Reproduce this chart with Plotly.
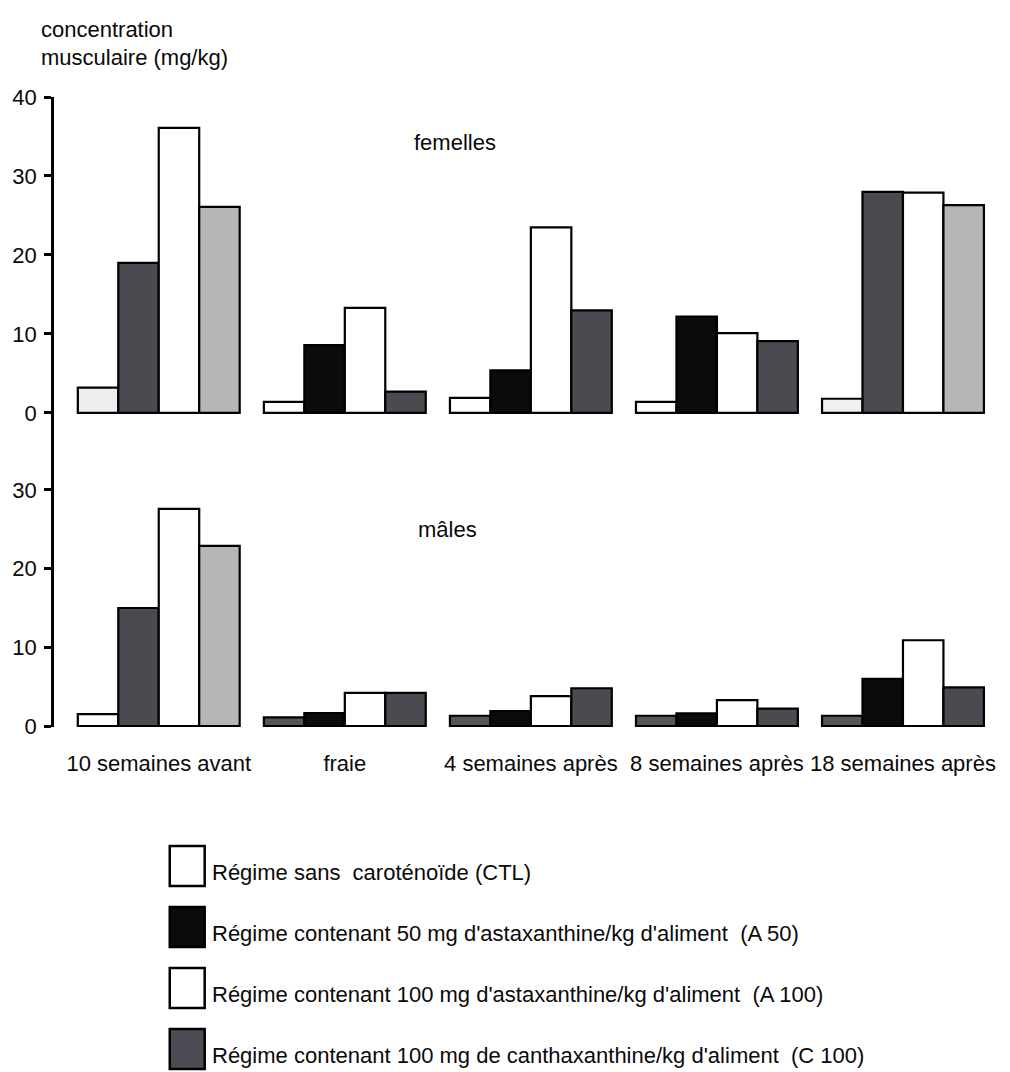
import plotly.graph_objects as go

# ---------------- data ----------------
periods = ["10 semaines avant", "fraie", "4 semaines après", "8 semaines après", "18 semaines après"]
series_codes = ["CTL", "A 50", "A 100", "C 100"]
series_labels = [
    "Régime sans  caroténoïde (CTL)",
    "Régime contenant 50 mg d'astaxanthine/kg d'aliment  (A 50)",
    "Régime contenant 100 mg d'astaxanthine/kg d'aliment  (A 100)",
    "Régime contenant 100 mg de canthaxanthine/kg d'aliment  (C 100)",
]

# femelles (mg/kg)
fem_ctl = [3.2, 1.4, 1.9, 1.4, 1.8]
fem_a50 = [19.0, 8.6, 5.4, 12.2, 28.0]
fem_a100 = [36.1, 13.3, 23.5, 10.1, 27.9]
fem_c100 = [26.1, 2.7, 13.0, 9.1, 26.3]

# mâles (mg/kg)
mal_ctl = [1.5, 1.1, 1.3, 1.3, 1.3]
mal_a50 = [15.0, 1.65, 1.9, 1.6, 6.0]
mal_a100 = [27.6, 4.2, 3.8, 3.3, 10.9]
mal_c100 = [22.9, 4.2, 4.8, 2.2, 4.9]

top_ticks = [0, 10, 20, 30, 40]
bottom_ticks = [0, 10, 20, 30]

# ---------------- styles (scan shades per bar) ----------------
BLACK = "#0b0b0b"
DARK = "#4a4a50"
LIGHT = "#b6b6b6"
WHITE = "#ffffff"
fem_colors = [
    ["#ededed", WHITE, WHITE, WHITE, "#f0f0f0"],
    [DARK, BLACK, BLACK, BLACK, DARK],
    [WHITE] * 5,
    [LIGHT, DARK, DARK, DARK, LIGHT],
]
mal_colors = [
    [WHITE, "#55555a", "#55555a", "#55555a", "#55555a"],
    [DARK, BLACK, BLACK, BLACK, BLACK],
    [WHITE] * 5,
    [LIGHT, DARK, DARK, DARK, DARK],
]
legend_colors = [WHITE, BLACK, WHITE, "#4c4c54"]

FONT = "Liberation Sans, Arial, Helvetica, sans-serif"
FS = 22
TXT = "#0a0a0a"

fig = go.Figure()
xcat = list(range(len(periods)))

for vals, cols, name in zip([fem_ctl, fem_a50, fem_a100, fem_c100], fem_colors, series_codes):
    fig.add_trace(go.Bar(x=xcat, y=vals, name=name, xaxis="x", yaxis="y",
                         marker=dict(color=cols, line=dict(color="black", width=2.2)),
                         showlegend=False))
for vals, cols, name in zip([mal_ctl, mal_a50, mal_a100, mal_c100], mal_colors, series_codes):
    fig.add_trace(go.Bar(x=xcat, y=vals, name=name, xaxis="x2", yaxis="y2",
                         marker=dict(color=cols, line=dict(color="black", width=2.2)),
                         showlegend=False))

# pixel geometry helpers (plot area 52..996 x 97..727)
L, R, T, B = 52, 14, 97, 345
W, H = 1010, 1072
PW, PH = W - L - R, H - T - B
def px(x):
    return (x - L) / PW
def py(y):
    return (T + PH - y) / PH

split = py(470)
xr = [-0.563, 4.5]
top_range = [-7.22, 40]
bot_range = [-0.127, 32.54]

axis_common = dict(showgrid=False, zeroline=False)
fig.update_layout(
    width=W, height=H,
    margin=dict(l=L, r=R, t=T, b=B),
    paper_bgcolor="white", plot_bgcolor="white",
    font=dict(family=FONT, size=FS, color=TXT),
    barmode="group", bargap=0.13, bargroupgap=0,
    xaxis=dict(domain=[0, 1], range=xr, anchor="y", showticklabels=False, ticks="",
               showline=False, **axis_common),
    xaxis2=dict(domain=[0, 1], range=xr, anchor="y2", tickmode="array", tickvals=xcat,
                ticktext=periods, ticks="outside", ticklen=17, tickcolor="rgba(0,0,0,0)",
                showline=False, tickfont=dict(size=FS, color=TXT), **axis_common),
    yaxis=dict(domain=[split, 1], range=top_range, anchor="x", tickmode="array",
               tickvals=top_ticks, ticks="outside", ticklen=7, tickwidth=2.5, tickcolor="black",
               showline=True, linecolor="black", linewidth=2.5, ticklabelstandoff=3,
               tickfont=dict(size=FS, color=TXT), **axis_common),
    yaxis3=dict(domain=[split, 1], range=top_range, anchor="x", overlaying="y", side="left",
                tickmode="array", tickvals=top_ticks, ticks="inside", ticklen=10, tickwidth=2.5,
                tickcolor="black", showticklabels=False, showline=False, **axis_common),
    yaxis2=dict(domain=[0, split], range=bot_range, anchor="x2", tickmode="array",
                tickvals=bottom_ticks, ticks="outside", ticklen=7, tickwidth=2.5, tickcolor="black",
                showline=True, linecolor="black", linewidth=2.5, ticklabelstandoff=3,
                tickfont=dict(size=FS, color=TXT), **axis_common),
    yaxis4=dict(domain=[0, split], range=bot_range, anchor="x2", overlaying="y2", side="left",
                tickmode="array", tickvals=bottom_ticks[1:], ticks="inside", ticklen=10,
                tickwidth=2.5, tickcolor="black", showticklabels=False, showline=False,
                **axis_common),
)

ann = []
def text(x, y, s, xanchor="left"):
    ann.append(dict(x=px(x), y=py(y), xref="paper", yref="paper", text=s, showarrow=False,
                    xanchor=xanchor, yanchor="middle", font=dict(family=FONT, size=FS, color=TXT)))

text(37, 30, "concentration")
text(37, 57, "musculaire (mg/kg)")
text(454, 143, "femelles", "center")
text(446, 529, "mâles", "center")

shapes = []
row_y = [866, 927, 988, 1049]
for lab, col, yc in zip(series_labels, legend_colors, row_y):
    shapes.append(dict(type="rect", xref="paper", yref="paper",
                       x0=px(168), x1=px(203), y0=py(yc + 20), y1=py(yc - 20),
                       fillcolor=col, line=dict(color="black", width=2.5)))
    text(208, yc + 6, lab)

fig.update_layout(annotations=ann, shapes=shapes)
fig.write_html("out.html", config={"displayModeBar": False},
               post_script="document.body.style.margin='0px';document.body.style.overflow='hidden';")
